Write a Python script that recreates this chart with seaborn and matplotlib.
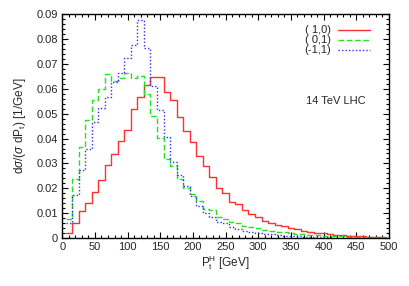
import numpy as np
import pandas as pd
import matplotlib
matplotlib.use('Agg')
import matplotlib.pyplot as plt
import seaborn as sns
from matplotlib.ticker import MultipleLocator, FuncFormatter

# bin centres of the Higgs pT histogram (10 GeV bins)
pt_bins = np.arange(5, 500, 10)

# ( 1,0)
dist_10 = [0.0019, 0.0062, 0.0107, 0.0142, 0.0184, 0.0234, 0.0292, 0.0338, 0.0391, 0.0436,
           0.0518, 0.0568, 0.0615, 0.0646, 0.0646, 0.0588, 0.0555, 0.0485, 0.0430, 0.0385,
           0.0330, 0.0288, 0.0246, 0.0202, 0.0182, 0.0146, 0.0136, 0.0113, 0.0095, 0.0083,
           0.0069, 0.0062, 0.0054, 0.0050, 0.0042, 0.0035, 0.0030, 0.0026, 0.0022, 0.0019,
           0.0016, 0.0014, 0.0012, 0.0010, 0.0009, 0.0007, 0.0006, 0.0005, 0.0005, 0.0004]
# ( 0,1)
dist_01 = [0.0078, 0.0236, 0.0365, 0.0475, 0.0555, 0.0598, 0.0660, 0.0633, 0.0642, 0.0662,
           0.0642, 0.0653, 0.0580, 0.0490, 0.0401, 0.0316, 0.0290, 0.0236, 0.0200, 0.0177,
           0.0149, 0.0115, 0.0113, 0.0086, 0.0075, 0.0066, 0.0059, 0.0050, 0.0043, 0.0039,
           0.0032, 0.0028, 0.0026, 0.0024, 0.0019, 0.0017, 0.0015, 0.0013, 0.0011, 0.0010,
           0.0009, 0.0008, 0.0007, 0.0006, 0.0005, 0.0004, 0.0004, 0.0003, 0.0003, 0.0003]
# (-1,1)
dist_m11 = [0.0059, 0.0173, 0.0273, 0.0357, 0.0468, 0.0522, 0.0566, 0.0627, 0.0665, 0.0723,
            0.0776, 0.0877, 0.0763, 0.0611, 0.0515, 0.0405, 0.0305, 0.0253, 0.0209, 0.0169,
            0.0129, 0.0102, 0.0086, 0.0066, 0.0059, 0.0043, 0.0035, 0.0028, 0.0024, 0.0021,
            0.0018, 0.0015, 0.0012, 0.0010, 0.0008, 0.0007, 0.0006, 0.0005, 0.0004, 0.0003,
            0.0003, 0.0002, 0.0002, 0.0002, 0.0001, 0.0001, 0.0001, 0.0001, 0.0001, 0.0001]

labels = ['( 1,0)', '( 0,1)', '(-1,1)']
series = [dist_10, dist_01, dist_m11]
colors = ['#ff3030', '#22e022', '#3030f0']
styles = ['-', (0, (4, 2)), (0, (1, 1.5))]

sns.set_theme(style='ticks')
plt.rcParams['font.family'] = ['Liberation Sans', 'DejaVu Sans']
plt.rcParams['mathtext.fontset'] = 'custom'
plt.rcParams['mathtext.rm'] = 'Liberation Sans'
plt.rcParams['mathtext.it'] = 'Liberation Sans:italic'

fig = plt.figure(figsize=(4.09, 2.86), dpi=100)
ax = fig.add_axes([0.1523, 0.1678, 0.7987, 0.7822])

for lab, vals, col, ls in zip(labels, series, colors, styles):
    df = pd.DataFrame({'pt': pt_bins, 'val': vals})
    sns.lineplot(data=df, x='pt', y='val', ax=ax, color=col, linestyle=ls,
                 linewidth=1.0, drawstyle='steps-post', label=lab)

ax.set_xlim(0, 500)
ax.set_ylim(0, 0.09)
ax.xaxis.set_major_locator(MultipleLocator(50))
ax.xaxis.set_minor_locator(MultipleLocator(10))
ax.yaxis.set_major_locator(MultipleLocator(0.01))
ax.yaxis.set_minor_locator(MultipleLocator(0.002))
ax.yaxis.set_major_formatter(FuncFormatter(lambda v, p: '%g' % round(v, 3)))
ax.tick_params(which='both', direction='in', top=True, right=True, labelsize=8,
               color='black', width=0.8, pad=3)
ax.tick_params(which='major', length=4)
ax.tick_params(which='minor', length=2)
for sp in ax.spines.values():
    sp.set_linewidth(1.0)
    sp.set_color('black')

ax.set_xlabel(r'P$_\mathrm{t}^\mathrm{H}$ [GeV]', fontsize=8.5, labelpad=1)
ax.set_ylabel(r'd$\sigma$/($\sigma$ dP$_\mathrm{t}$) [1/GeV]', fontsize=8.5, labelpad=6)

ax.text(373, 0.055, '14 TeV LHC', fontsize=8, va='center', ha='left')

leg = ax.legend(loc='upper right', bbox_to_anchor=(0.97, 0.99), frameon=False,
                markerfirst=False, fontsize=8, labelspacing=0.0, handlelength=2.9,
                handletextpad=0.6, borderpad=0.3)

plt.savefig('out.png', dpi=100)
